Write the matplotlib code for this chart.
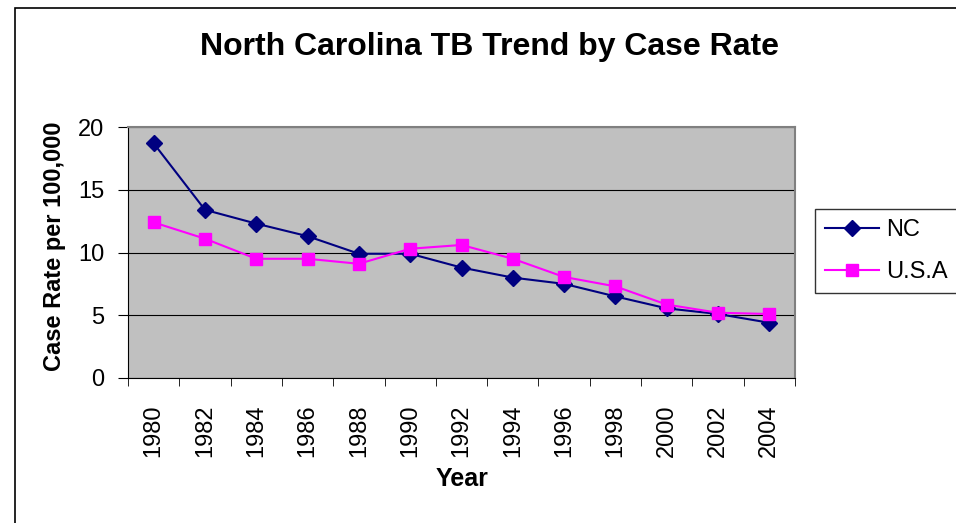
import matplotlib
matplotlib.use("Agg")
import matplotlib.pyplot as plt
from matplotlib.patches import Rectangle

# data
years = ["1980", "1982", "1984", "1986", "1988", "1990", "1992",
         "1994", "1996", "1998", "2000", "2002", "2004"]
nc_rate = [18.7, 13.4, 12.3, 11.3, 9.9, 9.9, 8.8, 8.0, 7.5, 6.5, 5.55, 5.1, 4.4]
usa_rate = [12.4, 11.1, 9.5, 9.5, 9.1, 10.3, 10.6, 9.5, 8.05, 7.3, 5.85, 5.2, 5.1]
y_ticks = [0, 5, 10, 15, 20]

plt.rcParams['font.family'] = ['Liberation Sans', 'DejaVu Sans']

W, H = 956, 523
fig = plt.figure(figsize=(W / 100, H / 100), dpi=100)

# outer chart border (cut off at right/bottom like the reference)
fig.patches.append(Rectangle((15 / W, -0.1), 1.2, 1 - 8 / H + 0.1,
                             transform=fig.transFigure, fill=False,
                             edgecolor="black", linewidth=1.2))

# plot area in pixels: x 128..795, y 127..378
ax = fig.add_axes([128 / W, 1 - 378 / H, (795 - 128) / W, (378 - 127) / H])
ax.set_facecolor("#C0C0C0")

x = range(len(years))
ax.plot(x, nc_rate, color="#000080", marker="D", markersize=8, linewidth=1.5, label="NC")
ax.plot(x, usa_rate, color="#FF00FF", marker="s", markersize=8, linewidth=1.5, label="U.S.A")

ax.set_xlim(-0.5, len(years) - 0.5)
ax.set_ylim(0, 20)
ax.set_yticks(y_ticks)
ax.set_yticklabels([str(v) for v in y_ticks], fontsize=17)
ax.set_xticks(x)
ax.set_xticklabels(years, rotation=90, fontsize=17)
# category boundary ticks like excel
ax.set_xticks([i - 0.5 for i in range(len(years) + 1)], minor=True)
ax.tick_params(axis="x", which="major", length=0, pad=19)
ax.tick_params(axis="x", which="minor", length=6, direction="out")
ax.tick_params(axis="y", length=7, direction="out", pad=10)
ax.grid(axis="y", color="black", linewidth=0.8)
ax.set_axisbelow(True)

for side in ["top", "right"]:
    ax.spines[side].set_color("#808080")
    ax.spines[side].set_linewidth(1.5)
for side in ["left", "bottom"]:
    ax.spines[side].set_color("black")

fig.text(54 / W, 1 - 246 / H, "Case Rate per 100,000", rotation=90,
         ha="center", va="center", fontsize=17, fontweight="bold")
fig.text(462 / W, 1 - 479 / H, "Year",
         ha="center", va="center", fontsize=18, fontweight="bold")

fig.text(489 / W, 1 - 47 / H, "North Carolina TB Trend by Case Rate",
         ha="center", va="center", fontsize=23, fontweight="bold")

leg = fig.legend(loc="upper left", bbox_to_anchor=(815 / W, 1 - 209 / H),
                 borderaxespad=0, fontsize=17, frameon=True, fancybox=False,
                 handlelength=2.3, handletextpad=0.3, borderpad=0.42,
                 labelspacing=0.85)
leg.get_frame().set_edgecolor("black")
leg.get_frame().set_linewidth(1.0)

fig.savefig("out.png", dpi=100)
